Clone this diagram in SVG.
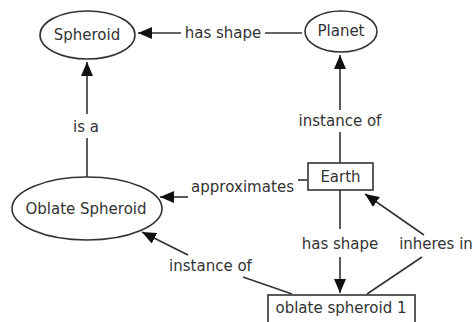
<svg xmlns="http://www.w3.org/2000/svg" width="473" height="322" viewBox="0 0 473 322">
<defs>
<marker id="ah" viewBox="0 0 14 12" refX="14" refY="6" markerWidth="14" markerHeight="12" markerUnits="userSpaceOnUse" orient="auto">
<path d="M0,0 L14,6 L0,12 z" fill="#111"/>
</marker>
<style>
.n{fill:#fff;stroke:#333;stroke-width:1.6}
.t{font-family:"DejaVu Sans",Verdana,sans-serif;font-size:15px;fill:#333;text-anchor:middle}
.c{stroke:#333;stroke-width:1.6;fill:none}
.a{marker-end:url(#ah)}
</style>
</defs>
<rect width="473" height="322" fill="#fff"/>
<g id="connectors">
<line class="c" x1="302" y1="33" x2="265" y2="33"/>
<text class="t" x="223" y="38">has shape</text>
<line class="c a" x1="181" y1="33" x2="138" y2="33"/>
<line class="c" x1="340" y1="163" x2="340" y2="132"/>
<text class="t" x="340" y="126">instance of</text>
<line class="c a" x1="340" y1="110" x2="340" y2="55"/>
<line class="c" x1="87" y1="177" x2="87" y2="138"/>
<text class="t" x="86" y="132">is a</text>
<line class="c a" x1="87" y1="114" x2="87" y2="62"/>
<line class="c" x1="307" y1="180" x2="298" y2="180"/>
<text class="t" x="242.5" y="192" textLength="103">approximates</text>
<line class="c a" x1="188" y1="197" x2="160" y2="197"/>
<line class="c" x1="340" y1="190" x2="340" y2="229"/>
<text class="t" x="340" y="249">has shape</text>
<line class="c a" x1="340" y1="257" x2="340" y2="293"/>
<line class="c" x1="367" y1="294" x2="422" y2="257"/>
<text class="t" x="436" y="249">inheres in</text>
<line class="c a" x1="424" y1="235" x2="365" y2="194"/>
<line class="c" x1="292" y1="294" x2="243" y2="277"/>
<text class="t" x="210.5" y="271">instance of</text>
<line class="c a" x1="188" y1="255" x2="142" y2="232"/>
</g>
<g id="spheroid">
<ellipse class="n" cx="87.5" cy="35" rx="47.5" ry="24"/>
<text class="t" x="87" y="40">Spheroid</text>
</g>
<g id="planet">
<ellipse class="n" cx="341" cy="31.5" rx="36" ry="20.5"/>
<text class="t" x="341" y="36">Planet</text>
</g>
<g id="oblate-spheroid">
<ellipse class="n" cx="87" cy="208.5" rx="75" ry="31.5"/>
<text class="t" x="86" y="214">Oblate Spheroid</text>
</g>
<g id="earth">
<rect class="n" x="308" y="163" width="65" height="27"/>
<text class="t" x="340.5" y="182">Earth</text>
</g>
<g id="oblate-spheroid-1">
<rect class="n" x="268" y="295" width="147" height="32"/>
<text class="t" x="341" y="313">oblate spheroid 1</text>
</g>
</svg>
